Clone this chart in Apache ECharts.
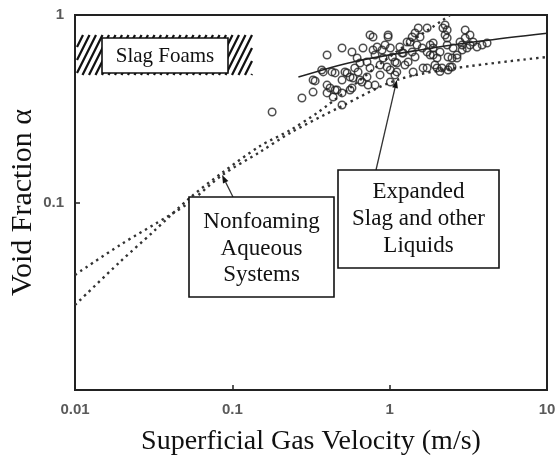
<!DOCTYPE html>
<html>
<head>
<meta charset="utf-8">
<script src="https://cdn.jsdelivr.net/npm/echarts@6/dist/echarts.min.js"></script>
<style>
  html, body { margin: 0; padding: 0; background: #fff; }
  #chart { width: 558px; height: 463px; }
</style>
</head>
<body>
<div id="chart"></div>
<script>
// Decade ticks on both log axes
const xTicks = [0.01, 0.1, 1, 10];
const yTicks = [0.01, 0.1, 1];
const yTickLabels = ['', '0.1', '1'];

// Measured void fractions of expanded slag and other liquids
const slagVelocity = [
  0.179, 0.277, 0.326, 0.336, 0.378, 0.400, 0.400, 0.400, 0.437, 0.450,
  0.498, 0.498, 0.498, 0.498, 0.536, 0.560, 0.576, 0.585, 0.630, 0.621,
  0.648, 0.667, 0.677, 0.718, 0.718, 0.729, 0.750, 0.784, 0.807, 0.832,
  0.869, 0.869, 0.895, 0.908, 0.962, 0.977, 1.01, 1.01, 1.04, 1.08,
  1.11, 1.16, 1.22, 1.29, 1.31, 1.39, 1.41, 1.45, 1.49, 1.52,
  1.39, 1.61, 1.73, 1.81, 1.89, 2.00, 2.09, 2.18, 2.25, 2.32,
  2.35, 2.42, 2.53, 2.68, 1.73, 1.81, 1.89, 1.94, 2.15, 2.25,
  2.32, 2.32, 2.49, 2.68, 2.80, 2.89, 3.02, 3.02, 3.10, 3.24,
  3.39, 3.59, 3.87, 4.16, 3.24, 2.09, 2.35, 1.73, 1.89, 2.49,
  2.89, 2.00, 0.326, 0.370, 0.430, 0.418, 0.463, 0.576, 0.560, 0.750,
  0.977, 0.784, 1.01, 1.11, 1.20, 1.35, 1.45, 1.56, 1.63, 0.450,
  0.520, 0.600, 0.935, 1.08, 1.25, 0.648, 0.807
];
const slagAlpha = [
  0.304, 0.361, 0.388, 0.445, 0.497, 0.612, 0.423, 0.384, 0.365, 0.398,
  0.331, 0.384, 0.450, 0.667, 0.491, 0.398, 0.635, 0.461, 0.497, 0.590,
  0.555, 0.439, 0.667, 0.467, 0.562, 0.423, 0.522, 0.763, 0.612, 0.675,
  0.541, 0.479, 0.651, 0.590, 0.528, 0.763, 0.667, 0.439, 0.597, 0.562,
  0.497, 0.675, 0.627, 0.718, 0.562, 0.635, 0.497, 0.597, 0.692, 0.852,
  0.763, 0.667, 0.522, 0.612, 0.667, 0.590, 0.635, 0.852, 0.782, 0.692,
  0.597, 0.528, 0.667, 0.590, 0.852, 0.692, 0.612, 0.541, 0.522, 0.884,
  0.832, 0.754, 0.528, 0.612, 0.718, 0.651, 0.832, 0.754, 0.667, 0.692,
  0.718, 0.675, 0.692, 0.709, 0.782, 0.500, 0.509, 0.635, 0.709, 0.590,
  0.692, 0.522, 0.450, 0.509, 0.497, 0.408, 0.398, 0.408, 0.467, 0.782,
  0.782, 0.651, 0.509, 0.555, 0.627, 0.718, 0.802, 0.763, 0.522, 0.491,
  0.497, 0.522, 0.692, 0.479, 0.541, 0.450, 0.423
];

// Correlation through the slag data
const slagFitVelocity = [0.263, 0.585, 1.56, 3.80, 10];
const slagFitAlpha = [0.467, 0.562, 0.651, 0.726, 0.80];

// Correlations for nonfoaming aqueous systems
const aqueousFlatVelocity = [0.01, 0.0193, 0.0402, 0.0538, 0.0861, 0.150, 0.233, 0.484, 1.11, 2.68, 10];
const aqueousFlatAlpha = [0.0411, 0.0593, 0.0858, 0.1006, 0.140, 0.186, 0.235, 0.323, 0.450, 0.522, 0.597];
const aqueousSteepVelocity = [0.01, 0.0193, 0.0313, 0.0538, 0.0861, 0.150, 0.233, 0.345, 0.560, 0.869, 1.35, 2.18, 2.42];
const aqueousSteepAlpha = [0.0284, 0.0482, 0.0696, 0.106, 0.144, 0.200, 0.243, 0.300, 0.408, 0.548, 0.718, 0.940, 1.0];

const zip = (xs, ys) => xs.map((x, i) => [x, ys[i]]);

const chart = echarts.init(document.getElementById('chart'), null, { renderer: 'canvas' });

const serif = '"Liberation Serif", "Times New Roman", serif';
const tickLabelStyle = {
  fontFamily: '"Liberation Sans", Arial, sans-serif',
  fontSize: 15,
  fontWeight: 'bold',
  color: '#5a5a5a'
};

chart.setOption({
  animation: false,
  backgroundColor: '#fff',
  grid: {
    left: 75, right: 11, top: 15, bottom: 73,
    outerBoundsMode: 'none', containLabel: false,
    show: true, borderColor: '#222', borderWidth: 2, backgroundColor: 'transparent'
  },
  xAxis: {
    type: 'log', logBase: 10, min: xTicks[0], max: xTicks[xTicks.length - 1],
    name: 'Superficial Gas Velocity (m/s)', nameLocation: 'middle', nameGap: 38,
    nameMoveOverlap: false,
    nameTextStyle: { fontFamily: serif, fontSize: 28, color: '#111' },
    axisLine: { show: true, lineStyle: { color: '#222', width: 2 } },
    axisTick: { show: true, inside: true, length: 5, lineStyle: { color: '#222', width: 1.5 } },
    minorTick: { show: false },
    splitLine: { show: false },
    axisLabel: Object.assign({
      margin: 12,
      formatter: v => {
        const t = xTicks.find(k => Math.abs(Math.log10(k) - Math.log10(v)) < 1e-6);
        return t === undefined ? '' : String(t);
      }
    }, tickLabelStyle)
  },
  yAxis: {
    type: 'log', logBase: 10, min: yTicks[0], max: yTicks[yTicks.length - 1],
    name: 'Void Fraction α', nameLocation: 'middle', nameGap: 37,
    nameMoveOverlap: false,
    nameTextStyle: { fontFamily: serif, fontSize: 30, color: '#111' },
    axisLine: { show: true, lineStyle: { color: '#222', width: 2 } },
    axisTick: { show: true, inside: true, length: 5, lineStyle: { color: '#222', width: 1.5 } },
    minorTick: { show: false },
    splitLine: { show: false },
    axisLabel: Object.assign({
      margin: 11,
      formatter: v => {
        const i = yTicks.findIndex(k => Math.abs(Math.log10(k) - Math.log10(v)) < 1e-6);
        return i < 0 ? '' : yTickLabels[i];
      }
    }, tickLabelStyle)
  },
  series: [
    {
      name: 'aqueous-flat', type: 'line', data: zip(aqueousFlatVelocity, aqueousFlatAlpha),
      showSymbol: false, smooth: 0.3, silent: true, z: 2,
      lineStyle: { color: '#333', width: 2.4, type: [2.4, 4] }
    },
    {
      name: 'aqueous-steep', type: 'line', data: zip(aqueousSteepVelocity, aqueousSteepAlpha),
      showSymbol: false, smooth: 0.3, silent: true, z: 2,
      lineStyle: { color: '#333', width: 2.4, type: [2.4, 4] }
    },
    {
      name: 'slag-fit', type: 'line', data: zip(slagFitVelocity, slagFitAlpha),
      showSymbol: false, smooth: 0.3, silent: true, z: 3,
      lineStyle: { color: '#222', width: 1.6 }
    },
    {
      name: 'slag', type: 'scatter', data: zip(slagVelocity, slagAlpha),
      symbol: 'circle', symbolSize: 7.5, silent: true, z: 4,
      itemStyle: { color: 'rgba(0,0,0,0)', borderColor: '#222', borderWidth: 1.5 }
    }
  ]
});

// ---- annotations ----
function textLine(str, x, y, size) {
  return {
    type: 'text', z: 20,
    style: { text: str, x: x, y: y, align: 'center', verticalAlign: 'middle',
             font: size + 'px ' + serif, fill: '#111' }
  };
}

function box(x0, y0, x1, y1) {
  return {
    type: 'rect', z: 18,
    shape: { x: x0, y: y0, width: x1 - x0, height: y1 - y0 },
    style: { fill: '#fff', stroke: '#111', lineWidth: 1.6 }
  };
}

function arrow(from, tip) {
  const dx = tip[0] - from[0], dy = tip[1] - from[1];
  const len = Math.hypot(dx, dy), ux = dx / len, uy = dy / len;
  const head = 8, half = 3;
  const bx = tip[0] - ux * head, by = tip[1] - uy * head;
  return [
    { type: 'line', z: 17, shape: { x1: from[0], y1: from[1], x2: bx, y2: by },
      style: { stroke: '#333', lineWidth: 1.3 } },
    { type: 'polygon', z: 17,
      shape: { points: [tip, [bx - uy * half, by + ux * half], [bx + uy * half, by - ux * half]] },
      style: { fill: '#111' } }
  ];
}

// Hatched band marking the slag foam range
function hatch(x0, y0, x1, y1, step) {
  const out = [];
  for (let c = x0 - (y1 - y0); c < x1 + step; c += step) {
    // line: x = c + (y1 - y) * 0.5
    const yb = Math.min(y1, y1 - 2 * (x0 - c));
    const yt = Math.max(y0, y1 - 2 * (x1 - c));
    if (yb > yt) {
      out.push({
        type: 'line', z: 16,
        shape: { x1: c + (y1 - yb) * 0.5, y1: yb, x2: c + (y1 - yt) * 0.5, y2: yt },
        style: { stroke: '#111', lineWidth: 2.2 }
      });
    }
  }
  return out;
}

const px = p => chart.convertToPixel({ gridIndex: 0 }, p);
const aqueousTip = px([aqueousFlatVelocity[4], aqueousFlatAlpha[4]]);
const slagTip = px([aqueousFlatVelocity[8], aqueousFlatAlpha[8]]);

const graphics = []
  .concat(hatch(77, 35, 252, 75, 6.5))
  .concat([box(102, 38, 228, 73), textLine('Slag Foams', 165, 56, 21)])
  .concat(arrow([233, 197], aqueousTip))
  .concat(arrow([376, 170], slagTip))
  .concat([
    box(189, 197, 334, 297),
    textLine('Nonfoaming', 261.5, 222, 23),
    textLine('Aqueous', 261.5, 249, 23),
    textLine('Systems', 261.5, 275, 23),
    box(338, 170, 499, 268),
    textLine('Expanded', 418.5, 192, 23),
    textLine('Slag and other', 418.5, 219, 23),
    textLine('Liquids', 418.5, 246, 23)
  ]);

chart.setOption({ graphic: graphics });
</script>
</body>
</html>
